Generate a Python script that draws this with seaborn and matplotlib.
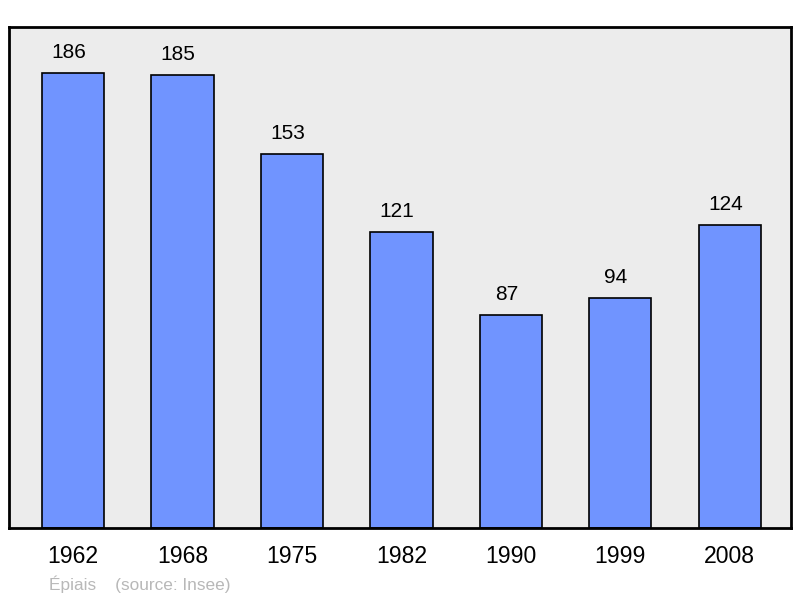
import matplotlib
matplotlib.use("Agg")
import matplotlib.pyplot as plt
import seaborn as sns
import pandas as pd

# ── data ─────────────────────────────────────────────────────────────────────
years = ["1962", "1968", "1975", "1982", "1990", "1999", "2008"]
population = [186, 185, 153, 121, 87, 94, 124]

df = pd.DataFrame({"year": years, "pop": population})

sns.set_style("white")
plt.rcParams["font.family"] = ["Liberation Sans", "DejaVu Sans"]
plt.rcParams["text.color"] = "black"
plt.rcParams["xtick.color"] = "black"

fig = plt.figure(figsize=(8, 5.98), dpi=100)
ax = fig.add_axes([9 / 800, 70 / 598, 782 / 800, 501 / 598])
ax.set_facecolor("#ececec")

sns.barplot(data=df, x="year", y="pop", color="#7094ff", saturation=1,
            width=0.57, edgecolor="black", linewidth=1.2, ax=ax)

# value labels sit slightly left of the bar centre in the original
for i, v in enumerate(population):
    ax.text(i - 0.04, v + 4.5, str(v), ha="center", va="bottom",
            fontsize=15, color="black")

ax.set_xlim(-0.585, 6.56)
ax.set_ylim(0, 204.8)
ax.set_xlabel("")
ax.set_ylabel("")
ax.set_yticks([])
ax.tick_params(axis="x", length=0, labelsize=16.6, pad=12, labelcolor="black")
for s in ax.spines.values():
    s.set_visible(True)
    s.set_color("black")
    s.set_linewidth(2)

fig.text(49 / 800, 1 - 584 / 598, "Épiais    (source: Insee)", color="#b8b8b8",
         fontsize=12.4, ha="left", va="center")

fig.savefig("out.png", dpi=100)
